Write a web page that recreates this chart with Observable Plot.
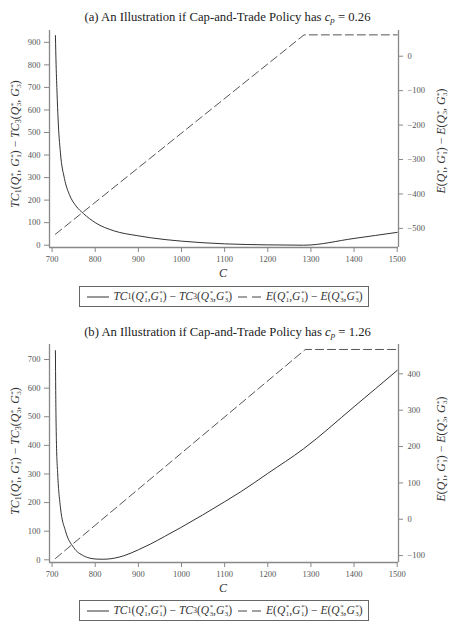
<!DOCTYPE html>
<html><head><meta charset="utf-8">
<script src="https://cdn.jsdelivr.net/npm/d3@7"></script>
<script src="https://cdn.jsdelivr.net/npm/@observablehq/plot@0.6"></script>
<style>
body{margin:0;background:#fff;font-family:"Liberation Serif","Times New Roman","DejaVu Serif",serif;}
#root{position:relative;width:455px;height:623px;overflow:hidden;font-family:"Liberation Serif","Times New Roman","DejaVu Serif",serif;color:#222;}
#root svg text{font-family:"Liberation Serif","Times New Roman","DejaVu Serif",serif !important;}
.layer{position:absolute;left:0;}
.title{position:absolute;left:0;width:455px;text-align:center;font-size:12.7px;line-height:1;transform:translateY(-50%);color:#222;}
.ylab{position:absolute;white-space:nowrap;font-size:11.8px;transform:translate(-50%,-50%) rotate(-90deg);color:#333;line-height:1;}
.xlab{position:absolute;font-style:italic;font-size:12px;transform:translate(-50%,-50%);color:#333;}
.legend{position:absolute;border:1px solid #666;display:flex;align-items:center;justify-content:center;font-size:11.5px;white-space:nowrap;box-sizing:border-box;color:#333;line-height:1;}
.ss{display:inline-flex;flex-direction:column;vertical-align:middle;font-size:0.6em;line-height:0.9;margin-left:0.5px;font-style:normal;}
sub{font-size:0.7em;vertical-align:-0.25em;line-height:0;}
.samp{display:inline-block;vertical-align:middle;margin:0 4px 0 2px;}
</style>
</head><body><div id="root"></div>
<script>
// ---------- data ----------
const xTicks = [700, 800, 900, 1000, 1100, 1200, 1300, 1400, 1500];

// Panel (a) c_p = 0.26
const titleA = "(a) An Illustration if Cap-and-Trade Policy has";
const cpA = "0.26";
const leftTicksA = [0, 100, 200, 300, 400, 500, 600, 700, 800, 900];
const rightTicksA = [0, -100, -200, -300, -400, -500];
const costCA = [707.7, 709.3, 711.6, 713.9, 719.3, 728.6, 740, 755, 773, 800, 843, 898.5, 928, 1000, 1100, 1200, 1283, 1400, 1500];
const costDiffA = [930, 800, 670, 560, 410, 296, 225, 175, 140, 100, 64, 42, 33, 18, 6, 1.5, 0, 30, 57];
const emisCA = [707.7, 1284, 1500];
const emisDiffA = [-517, 62, 62];

// Panel (b) c_p = 1.26
const titleB = "(b) An Illustration if Cap-and-Trade Policy has";
const cpB = "1.26";
const leftTicksB = [0, 100, 200, 300, 400, 500, 600, 700];
const rightTicksB = [-100, 0, 100, 200, 300, 400];
const costCB = [707.7, 708.4, 710, 713, 719.3, 730.8, 750, 773, 790, 804, 816, 827.5, 845, 866, 900, 928, 960, 997.5, 1100, 1136.6, 1200, 1283, 1400, 1500];
const costDiffB = [731, 592, 416, 300, 184, 102, 43, 14, 5, 2.5, 2, 2.5, 6, 14, 35, 55, 81, 112, 203, 237, 302, 388, 535, 662];
const emisCB = [707.7, 1287, 1500];
const emisDiffB = [-108, 467, 467];

// ---------- helpers ----------
const root = document.getElementById("root");
const FONT = "'Liberation Serif','Times New Roman','DejaVu Serif',serif";
const fmt = d => d < 0 ? "\u2212" + Math.abs(d) : String(d);
const q = (l, i) => `<i>${l}</i><span class="ss"><span>*</span><span>${i}</span></span>`;
const tcLabel = `<i>TC</i><sub>1</sub>(${q("Q",1)}, ${q("G",1)})&nbsp;\u2212&nbsp;<i>TC</i><sub>3</sub>(${q("Q",3)}, ${q("G",3)})`;
const eLabel = `<i>E</i>(${q("Q",1)}, ${q("G",1)})&nbsp;\u2212&nbsp;<i>E</i>(${q("Q",3)}, ${q("G",3)})`;
const solidSample = `<svg class="samp" width="22" height="4"><line x1="0" y1="2" x2="22" y2="2" stroke="#333" stroke-width="1"/></svg>`;
const dashSample = `<svg class="samp" width="24" height="4" style="margin-left:6px"><line x1="0" y1="2" x2="24" y2="2" stroke="#444" stroke-width="1" stroke-dasharray="9,5"/></svg>`;

function addDiv(cls, html, style) {
  const d = document.createElement("div");
  d.className = cls; d.innerHTML = html;
  Object.assign(d.style, style);
  root.appendChild(d);
  return d;
}

const X_DOMAIN = [694, 1503];
const common = {
  width: 455, height: 260, marginLeft: 49, marginRight: 57, marginTop: 10,
  style: {fontFamily: FONT, fontSize: "8.5px", color: "#555", background: "transparent", overflow: "visible"}
};

function panel(cfg) {
  const costData = cfg.costC.map((c, i) => ({c, v: cfg.costDiff[i]}));
  const emisData = cfg.emisC.map((c, i) => ({c, v: cfg.emisDiff[i]}));
  const left = Plot.plot({
    ...common, marginBottom: cfg.mb,
    x: {domain: X_DOMAIN, axis: null},
    y: {domain: cfg.leftDomain, axis: null},
    marks: [
      Plot.ruleX([X_DOMAIN[0]], {y1: cfg.leftDomain[0], y2: cfg.leftDomain[1], stroke: "#888", strokeWidth: 1.3}),
      Plot.ruleY([cfg.leftDomain[0]], {x1: X_DOMAIN[0], x2: X_DOMAIN[1], stroke: "#888", strokeWidth: 1.3}),
      Plot.axisX(xTicks, {tickSize: 5, tickPadding: 3, tickFormat: fmt, label: null, stroke: "#888"}),
      Plot.axisY(cfg.leftTicks, {anchor: "left", tickSize: 5, tickPadding: 4, tickFormat: fmt, label: null, stroke: "#888"}),
      Plot.line(costData, {x: "c", y: "v", stroke: "#333", strokeWidth: 1, curve: "monotone-x"})
    ]
  });
  const right = Plot.plot({
    ...common, marginBottom: cfg.mb,
    x: {domain: X_DOMAIN, axis: null},
    y: {domain: cfg.rightDomain, axis: null},
    marks: [
      Plot.ruleX([X_DOMAIN[1]], {y1: cfg.rightDomain[0], y2: cfg.rightDomain[1], stroke: "#888", strokeWidth: 1.3}),
      Plot.axisY(cfg.rightTicks, {anchor: "right", tickSize: 4, tickPadding: 5, tickFormat: fmt, label: null, stroke: "#888"}),
      Plot.line(emisData, {x: "c", y: "v", stroke: "#555", strokeWidth: 1, strokeDasharray: "8,4"})
    ]
  });
  for (const svg of [left, right]) {
    svg.classList.add("layer");
    svg.style.top = cfg.top + "px";
    root.appendChild(svg);
  }
  addDiv("title", `${cfg.title} <i>c</i><sub><i>p</i></sub> = ${cfg.cp}`, {top: cfg.titleY + "px"});
  addDiv("ylab", tcLabel, {left: "16px", top: cfg.lLabY + "px"});
  addDiv("ylab", eLabel, {left: "442px", top: cfg.rLabY + "px"});
  addDiv("xlab", "C", {left: "223px", top: cfg.xLabY + "px"});
  addDiv("legend", `${solidSample}${tcLabel}${dashSample}${eLabel}`,
    {left: "79px", top: cfg.legY + "px", width: "290px", height: cfg.legH + "px"});
}

panel({
  title: titleA, cp: cpA, top: 20, mb: 33, titleY: 17,
  costC: costCA, costDiff: costDiffA, emisC: emisCA, emisDiff: emisDiffA,
  leftDomain: [-10.2, 952.5], rightDomain: [-555.5, 74.7],
  leftTicks: leftTicksA, rightTicks: rightTicksA,
  lLabY: 144, rLabY: 141, xLabY: 273, legY: 286, legH: 21
});
panel({
  title: titleB, cp: cpB, top: 334, mb: 32, titleY: 332,
  costC: costCB, costDiff: costDiffB, emisC: emisCB, emisDiff: emisDiffB,
  leftDomain: [-9.4, 752.5], rightDomain: [-119, 480.7],
  leftTicks: leftTicksB, rightTicks: rightTicksB,
  lLabY: 451, rLabY: 449, xLabY: 588, legY: 600, legH: 21
});
</script>
</body></html>
